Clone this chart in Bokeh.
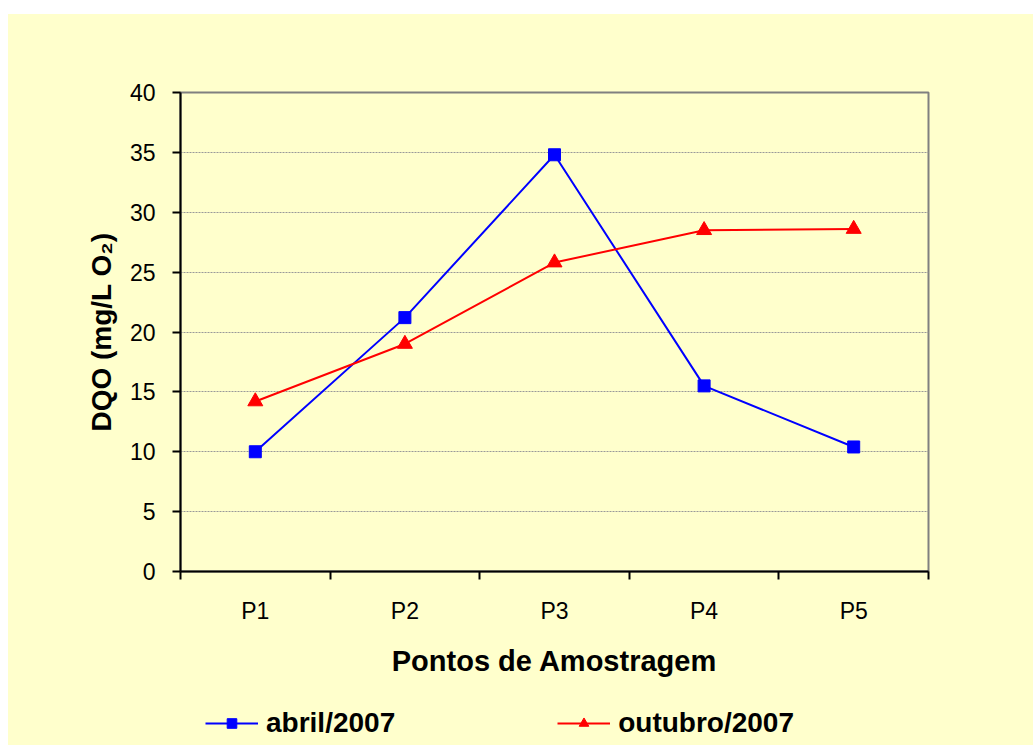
from bokeh.plotting import figure
from bokeh.models import (Range1d, FixedTicker, Legend, LegendItem, Spacer)
from bokeh.layouts import column, row
from bokeh.embed import file_html
from bokeh.resources import INLINE

categories = ["P1", "P2", "P3", "P4", "P5"]
abril = [10.0, 21.2, 34.8, 15.5, 10.4]
outubro = [14.2, 19.0, 25.8, 28.5, 28.6]
series_names = ["abril/2007", "outubro/2007"]
y_ticks = [0, 5, 10, 15, 20, 25, 30, 35, 40]

x = [i + 1 for i in range(len(categories))]
bounds = [i + 0.5 for i in range(len(categories) + 1)]

BG = "#FFFFCC"
FONT = "Liberation Sans"
BLUE = "#0000FF"
RED = "#FF0000"

p = figure(width=1025, height=686, x_range=Range1d(0.5, 5.5), y_range=Range1d(0, 40),
           output_backend="svg", toolbar_location=None,
           min_border_left=172, min_border_right=105, min_border_top=78, min_border_bottom=129,
           background_fill_color=BG, border_fill_color=BG)

p.outline_line_color = "#808080"
p.outline_line_width = 2

# grid
p.xgrid.visible = False
p.ygrid.ticker = FixedTicker(ticks=y_ticks)
p.ygrid.grid_line_color = "#999999"
p.ygrid.grid_line_dash = "2 1"
p.ygrid.grid_line_width = 1

# x axis
xa = p.xaxis[0]
xa.ticker = FixedTicker(ticks=x, minor_ticks=bounds)
xa.major_label_overrides = {xi: c for xi, c in zip(x, categories)}
xa.major_tick_in = 0
xa.major_tick_out = 0
xa.minor_tick_in = 0
xa.minor_tick_out = 8
xa.minor_tick_line_color = "black"
xa.minor_tick_line_width = 2
xa.axis_line_color = "black"
xa.axis_line_width = 2
xa.major_label_text_font = FONT
xa.major_label_text_font_size = "23px"
xa.major_label_text_color = "black"
xa.major_label_standoff = 18
xa.axis_label = "Pontos de Amostragem"
xa.axis_label_text_font = FONT
xa.axis_label_text_font_size = "29px"
xa.axis_label_text_font_style = "bold"
xa.axis_label_text_color = "black"
xa.axis_label_standoff = 18

# y axis
ya = p.yaxis[0]
ya.ticker = FixedTicker(ticks=y_ticks)
ya.major_tick_in = 0
ya.major_tick_out = 8
ya.major_tick_line_width = 2
ya.major_tick_line_color = "black"
ya.minor_tick_out = 0
ya.minor_tick_in = 0
ya.axis_line_color = "black"
ya.axis_line_width = 2
ya.major_label_text_font = FONT
ya.major_label_text_font_size = "23px"
ya.major_label_text_color = "black"
ya.major_label_standoff = 17
ya.axis_label = "DQO (mg/L O\u2082)"
ya.axis_label_text_font = FONT
ya.axis_label_text_font_size = "28px"
ya.axis_label_text_font_style = "bold"
ya.axis_label_text_color = "black"
ya.axis_label_standoff = 10

# series
p.line(x, abril, line_color=BLUE, line_width=2)
p.scatter(x, abril, marker="square", size=12, fill_color=BLUE, line_color=BLUE)
p.line(x, outubro, line_color=RED, line_width=2)
p.scatter(x, outubro, marker="triangle", size=15, fill_color=RED, line_color=RED)

# legend strip (separate figure so the legend is not clipped by the main frame);
# its renderers carry the same series but lie outside this strip's visible range
p2 = figure(width=1025, height=45, x_range=Range1d(0.5, 5.5), y_range=Range1d(-200, -199),
            output_backend="svg", toolbar_location=None,
            x_axis_type=None, y_axis_type=None,
            min_border_left=172, min_border_right=105, min_border_top=0, min_border_bottom=0,
            background_fill_color=BG, border_fill_color=BG)
p2.outline_line_color = None
p2.grid.visible = False
k1 = p2.line(x, abril, line_color=BLUE, line_width=2)
k2 = p2.scatter(x, abril, marker="square", size=12, fill_color=BLUE, line_color=BLUE)
k3 = p2.line(x, outubro, line_color=RED, line_width=2)
k4 = p2.scatter(x, outubro, marker="triangle", size=15, fill_color=RED, line_color=RED)

legend = Legend(items=[LegendItem(label=series_names[0], renderers=[k1, k2]),
                       LegendItem(label=series_names[1], renderers=[k3, k4])],
                orientation="horizontal", location=(25, 6))
legend.background_fill_alpha = 0
legend.border_line_color = None
legend.label_text_font = FONT
legend.label_text_font_size = "28px"
legend.label_text_font_style = "bold"
legend.label_text_color = "black"
legend.glyph_width = 53
legend.glyph_height = 24
legend.label_standoff = 8
legend.spacing = 162
legend.padding = 0
legend.margin = 0
p2.add_layout(legend, "center")

inner = column(p, p2, spacing=0, styles={"background-color": BG})
layout = column(Spacer(height=14, width=1033),
                row(Spacer(width=8, height=731), inner, spacing=0),
                spacing=0)
open("out.html", "w").write(file_html(layout, INLINE))
